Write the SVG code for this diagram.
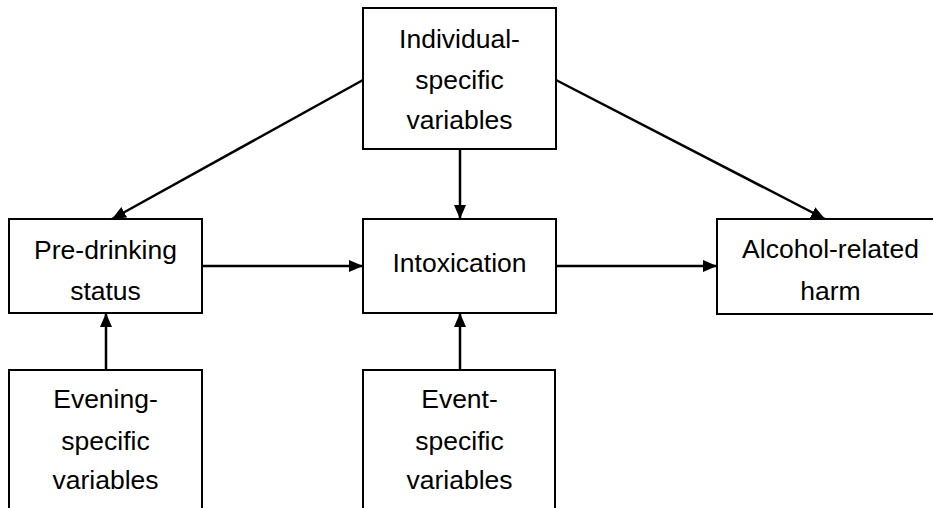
<svg xmlns="http://www.w3.org/2000/svg" width="933" height="508" viewBox="0 0 933 508">
<defs>
<style>
.box{fill:#fff;stroke:#000;stroke-width:2}
.t{font-family:"Liberation Sans",Arial,sans-serif;font-size:26.5px;fill:#000;text-anchor:middle}
.c{stroke:#000;stroke-width:2.5;fill:none;marker-end:url(#ah)}
</style>
<marker id="ah" viewBox="0 0 14 12" refX="14" refY="6" markerWidth="14" markerHeight="12" markerUnits="userSpaceOnUse" orient="auto">
<path d="M0,0 L14,6 L0,12 Z" fill="#000"/>
</marker>
</defs>
<rect width="933" height="508" fill="#fff"/>
<g id="connectors">
<line class="c" x1="363" y1="80" x2="112" y2="219"/>
<line class="c" x1="556" y1="80" x2="825" y2="219"/>
<line class="c" x1="460" y1="149" x2="460" y2="219"/>
<line class="c" x1="202" y1="266" x2="363" y2="266"/>
<line class="c" x1="556" y1="266" x2="717" y2="266"/>
<line class="c" x1="106" y1="370" x2="106" y2="313"/>
<line class="c" x1="460" y1="370" x2="460" y2="313"/>
</g>
<g id="individual">
<rect class="box" x="363" y="8" width="193" height="141"/>
<text class="t" x="459.5" y="48">Individual-</text>
<text class="t" x="459.5" y="89">specific</text>
<text class="t" x="459.5" y="129">variables</text>
</g>
<g id="predrinking">
<rect class="box" x="9" y="219" width="193" height="94"/>
<text class="t" x="105.5" y="259">Pre-drinking</text>
<text class="t" x="105.5" y="300">status</text>
</g>
<g id="intoxication">
<rect class="box" x="363" y="219" width="193" height="94"/>
<text class="t" x="459.5" y="272">Intoxication</text>
</g>
<g id="harm">
<rect class="box" x="717" y="219" width="230" height="95"/>
<text class="t" x="830.5" y="258">Alcohol-related</text>
<text class="t" x="830.5" y="300">harm</text>
</g>
<g id="evening">
<rect class="box" x="9" y="370" width="193" height="150"/>
<text class="t" x="105.5" y="408">Evening-</text>
<text class="t" x="105.5" y="450">specific</text>
<text class="t" x="105.5" y="489">variables</text>
</g>
<g id="event">
<rect class="box" x="363" y="370" width="192" height="150"/>
<text class="t" x="459.5" y="408">Event-</text>
<text class="t" x="459.5" y="450">specific</text>
<text class="t" x="459.5" y="489">variables</text>
</g>
</svg>
